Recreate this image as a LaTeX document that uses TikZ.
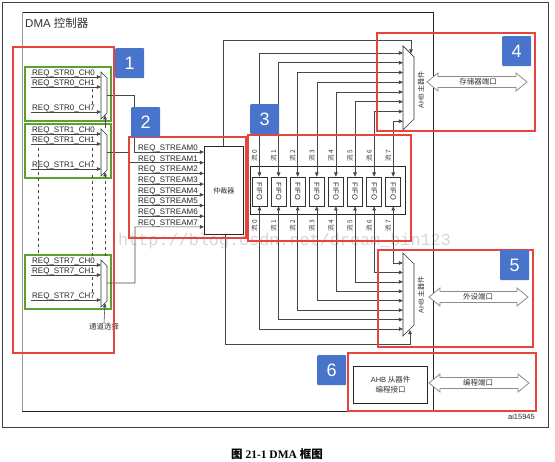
\documentclass[tikz,border=0pt]{standalone}
\usepackage{fontspec}
\setmainfont{Liberation Sans}
\newfontfamily\cjk{Noto Sans CJK SC}
\newfontfamily\wmfont{Liberation Mono}
\newfontfamily\capfont{Liberation Serif}
\usetikzlibrary{arrows.meta}
\definecolor{redc}{RGB}{232,68,62}
\definecolor{grnc}{RGB}{94,160,48}
\definecolor{bluec}{RGB}{72,116,203}
\newcommand\portarrow[3]{%
 \draw[port] (#1,#3) -- (#1+11,#3-9) -- (#1+11,#3-5.5) -- (#2-11,#3-5.5) -- (#2-11,#3-9) -- (#2,#3) -- (#2-11,#3+9) -- (#2-11,#3+5.5) -- (#1+11,#3+5.5) -- (#1+11,#3+9) -- cycle;}
\tikzset{
 ln/.style={draw=black!72, line width=0.55pt},
 arr/.style={ln, -{Triangle[length=4.2pt,width=3.6pt]}},
 darr/.style={ln, {Triangle[length=4.2pt,width=3.6pt]}-{Triangle[length=4.2pt,width=3.6pt]}},
 redbox/.style={draw=redc, line width=1.6pt},
 grnbox/.style={draw=grnc, line width=1.6pt},
 numlab/.style={fill=bluec, text=white, font=\fontsize{18}{18}\selectfont, minimum width=29pt, minimum height=30pt, inner sep=0pt, rounded corners=1pt, anchor=north west},
 reqlab/.style={font=\fontsize{8}{8}\selectfont, inner sep=0pt, anchor=base west, text=black!85},
 small/.style={font=\cjk\fontsize{7}{8}\selectfont, inner sep=0pt, text=black!80},
 fifobox/.style={draw=black!80, line width=0.6pt, minimum width=15pt, minimum height=29pt, inner sep=0pt},
 port/.style={draw=black!45, fill=white, line width=0.8pt},
 mux/.style={draw=black!80, line width=0.7pt, fill=white},
}
\begin{document}
\begin{tikzpicture}[x=1pt,y=-1pt]
\useasboundingbox (0,0) rectangle (555,462);
% watermark
\node[font=\wmfont\fontsize{16.8}{17}\selectfont, text=black!16, anchor=west, inner sep=0] (wm) at (118,241) {http://blog.csdn.net/dream\_bin123};
% frames
\draw[black!75, line width=0.7pt] (2,2) rectangle (548,427);
\draw[black!85, line width=0.8pt] (22,12) -- (433,12) -- (433,411) -- (22,411);
\draw[black!40, line width=0.9pt] (22,12) -- (22,411);
\node[anchor=west, font=\fontsize{11.5}{12}\selectfont, text=black!80, inner sep=0] (title) at (25,23) {DMA {\cjk 控制器}};

% ---- channel groups ----
\foreach \g/\T in {0/67,1/124,7/255}{
  \draw[grnbox] (25,\T) rectangle (111,\T+54);
  \draw[mux] (101,\T+5) -- (107,\T+11) -- (107,\T+46) -- (101,\T+52) -- cycle;
  \coordinate (g\g o) at (107,\T+28);
  \foreach \c/\dy in {0/10,1/20,7/45}{
    \coordinate (g\g s\c) at (31,\T+\dy);
    \coordinate (g\g i\c) at (101,\T+\dy);
    \draw[arr] (g\g s\c) -- (g\g i\c);
    \node[reqlab] (g\g l\c) at (32,\T+\dy-1.6) {REQ\_STR\g\_CH\c};
  }
}
% dashed continuation lines
\draw[ln, dashed] (92,89) -- (92,104);
\draw[ln, dashed] (92,148) -- (92,162);
\draw[ln, dashed] (92,175) -- (92,256);
\draw[ln, dashed] (92,277) -- (92,293);
\draw[ln, dashed] (38,148) -- (38,254);
% channel select
\coordinate (sel0) at (105,128);
\coordinate (sel1) at (105,256);
\draw[arr] (sel0) -- (105,115.2);
\draw[arr, dashed] (sel1) -- (105,172.2);
\node[small, font=\cjk\fontsize{7.5}{8}\selectfont] (chsel) at (104,327) {通道选择};
\draw[arr] (chsel.north) -- (105,303.2);

% ---- arbiter ----
\node[draw=black!85, line width=0.7pt, minimum width=39pt, minimum height=88pt, anchor=north west, inner sep=0, font=\cjk\fontsize{7}{8}\selectfont, text=black!80] (arb) at (204,146) {仲裁器};
\foreach \k in {0,...,7}{
  \coordinate (a\k) at (204,152+10.7*\k);
  \node[reqlab] (rs\k) at (138,150.4+10.7*\k) {REQ\_STREAM\k};
}
\foreach \k in {2,...,6}{
  \coordinate (b\k) at (138,152+10.7*\k);
  \draw[arr] (b\k) -- (a\k);
}
\draw[arr] (g0o) -- (134,95) -- (134,152) -- (a0);
\draw[arr] (g1o) -- (128,152) -- (128,162.7) -- (a1);
\draw[arr] (g7o) -- (135,283) -- (135,226.9) -- (a7);

% ---- AHB masters ----
\draw[mux] (403,46) -- (414,57) -- (414,119) -- (403,130) -- cycle;
\draw[mux] (403,253) -- (414,264) -- (414,325) -- (403,336) -- cycle;
\node[small, rotate=90] (m1t) at (421,90) {\fontspec{Liberation Sans}AHB \cjk 主器件};
\node[small, rotate=90] (m2t) at (421,295) {\fontspec{Liberation Sans}AHB \cjk 主器件};
\coordinate (m1sel) at (411,53.5);
\coordinate (m2sel) at (410,330);
\draw[arr] (arb.north -| 223,0) -- (223,40) -- (411,40) -- (m1sel);
\draw[arr] (arb.south -| 225,0) -- (225,344) -- (410,344) -- (m2sel);

% ---- FIFOs ----
\draw[black!85, line width=0.7pt] (250,166) rectangle (405,214);
\foreach \i in {0,...,7}{
  \node[fifobox] (f\i) at (259.5+19.1*\i,191.5) {};
  \node[rotate=-90, font=\fontsize{7.5}{8}\selectfont, inner sep=0, text=black!85] (ft\i) at (f\i.center) {FIFO};
  \coordinate (m1in\i) at (403,53+9.75*\i);
  \coordinate (m2in\i) at (403,329-9.43*\i);
  \draw[darr] (f\i.north) -- (f\i.north |- m1in\i) -- (m1in\i);
  \draw[darr] (f\i.south) -- (f\i.south |- m2in\i) -- (m2in\i);
  \node[small, font=\cjk\fontsize{6.5}{7}\selectfont, rotate=90] (lt\i) at (254.5+19.1*\i,156) {流 \i};
  \node[small, font=\cjk\fontsize{6.5}{7}\selectfont, rotate=90] (lb\i) at (254.5+19.1*\i,226) {流 \i};
}

% ---- ports ----
\portarrow{427}{527}{82}
\node[small, font=\cjk\fontsize{7.5}{8}\selectfont] (p1) at (478,81.5) {存储器端口};
\portarrow{429}{528}{297}
\node[small, font=\cjk\fontsize{7.5}{8}\selectfont] (p2) at (478,296.5) {外设端口};
\portarrow{429}{529}{383}
\node[small, font=\cjk\fontsize{7.5}{8}\selectfont] (p3) at (478,382.5) {编程端口};
\node[draw=black!85, line width=1.2pt, minimum width=74pt, minimum height=37pt, anchor=north west, inner sep=0, align=center, font=\cjk\fontsize{7.5}{10}\selectfont, text=black!80] (slave) at (353,366) {{\fontspec{Liberation Sans}AHB} 从器件\\编程接口};

\node[anchor=east, font=\fontsize{7.5}{8}\selectfont, inner sep=0, text=black!85] (ai) at (535,417) {ai15945};

% ---- red boxes and numbers ----
\draw[redbox] (13,47) rectangle (114,353);
\draw[redbox] (129,137) rectangle (246,238);
\draw[redbox] (248,135) rectangle (411,241);
\draw[redbox] (377,33) rectangle (535,131);
\draw[redbox] (378,250) rectangle (533,347);
\draw[redbox] (348,353) rectangle (536,411);
\node[numlab] (n1) at (115,48) {1};
\node[numlab] (n2) at (131,107) {2};
\node[numlab] (n3) at (250,104) {3};
\node[numlab] (n4) at (502,36) {4};
\node[numlab] (n5) at (500,250) {5};
\node[numlab] (n6) at (317,355) {6};

% caption
\node[font=\capfont\bfseries\fontsize{11.5}{12}\selectfont, inner sep=0] (cap) at (277,454) {{\cjk\bfseries 图} 21-1 DMA {\cjk\bfseries 框图}};
\end{tikzpicture}
\end{document}
